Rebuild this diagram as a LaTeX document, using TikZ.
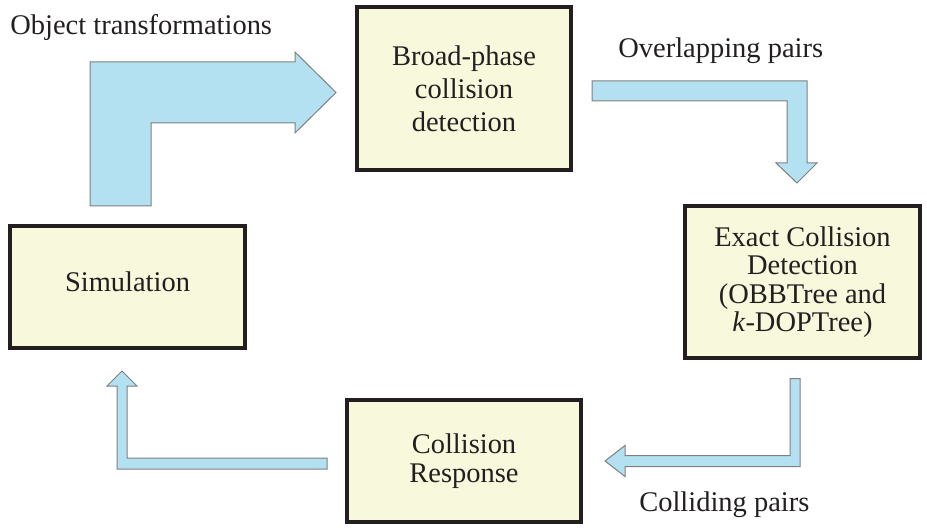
\documentclass[tikz,border=0pt]{standalone}
\usepackage{fontspec}
\setmainfont{Liberation Serif}
\definecolor{boxfill}{HTML}{F8F8DC}
\definecolor{arrowfill}{HTML}{B4E1F2}
\definecolor{arrowline}{HTML}{7F7F7F}
\definecolor{ink}{HTML}{231F20}
\tikzset{stage/.style={draw=ink, fill=boxfill, line width=0.08cm, align=center, text=ink,
  font=\fontsize{16.2}{16.2}\selectfont, inner sep=0pt}}
\tikzset{blockarrow/.style={draw=arrowline, fill=arrowfill, line width=0.02cm, line join=miter}}
\tikzset{caption/.style={anchor=base west, text=ink, inner sep=0pt, font=\fontsize{16.2}{16.2}\selectfont}}

\begin{document}
\begin{tikzpicture}
      \useasboundingbox (0, 0) rectangle (18.54, 10.62);

      \node [stage, minimum width=4.28cm, minimum height=3.26cm, font=\fontsize{16.2}{18.8}\selectfont] (broad) at (9.28, 8.85) {Broad-phase\\collision\\detection};
      \node [stage, minimum width=4.70cm, minimum height=3.04cm] (exact) at (16.05, 4.98) {Exact Collision\\Detection\\(OBBTree and\\\textit{k}-DOPTree)};
      \node [stage, minimum width=4.68cm, minimum height=2.44cm] (response) at (9.28, 1.40) {Collision\\Response};
      \node [stage, minimum width=4.70cm, minimum height=2.44cm, text depth=0.2cm] (sim) at (2.55, 4.88) {Simulation};

      \node [caption] (objtrans) at (0.2, 9.92) {Object transformations};
      \node [caption] (overlap) at (12.36, 9.46) {Overlapping pairs};
      \node [caption] (colliding) at (12.78, 0.40) {Colliding pairs};

      \coordinate (tipA) at ([shift={(-0.38, -0.08)}]broad.west);
      \coordinate (tipB) at ([shift={(-0.11, 0.42)}]exact.north);
      \coordinate (tipC) at ([shift={(0.44, 0)}]response.east);
      \coordinate (tipD) at ([shift={(-0.11, -0.42)}]sim.south);

      \draw [blockarrow] (tipA) -- ++(-0.82, 0.81) -- ++(0, -0.2) -- ++(-4.1, 0) -- ++(0, -2.88)
        -- ++(1.22, 0) -- ++(0, 1.66) -- ++(2.88, 0) -- ++(0, -0.2) -- cycle;
      \draw [blockarrow] (tipB) -- ++(-0.42, 0.4) -- ++(0.22, 0) -- ++(0, 1.24) -- ++(-3.9, 0)
        -- ++(0, 0.4) -- ++(4.3, 0) -- ++(0, -1.64) -- ++(0.2, 0) -- cycle;
      \draw [blockarrow] (tipC) -- ++(0.4, 0.31) -- ++(0, -0.2) -- ++(3.3, 0) -- ++(0, 1.54)
        -- ++(0.2, 0) -- ++(0, -1.76) -- ++(-3.5, 0) -- ++(0, -0.2) -- cycle;
      \draw [blockarrow] (tipD) -- ++(0.3, -0.3) -- ++(-0.2, 0) -- ++(0, -1.44) -- ++(4, 0)
        -- ++(0, -0.22) -- ++(-4.2, 0) -- ++(0, 1.66) -- ++(-0.2, 0) -- cycle;
    \end{tikzpicture}
\end{document}
